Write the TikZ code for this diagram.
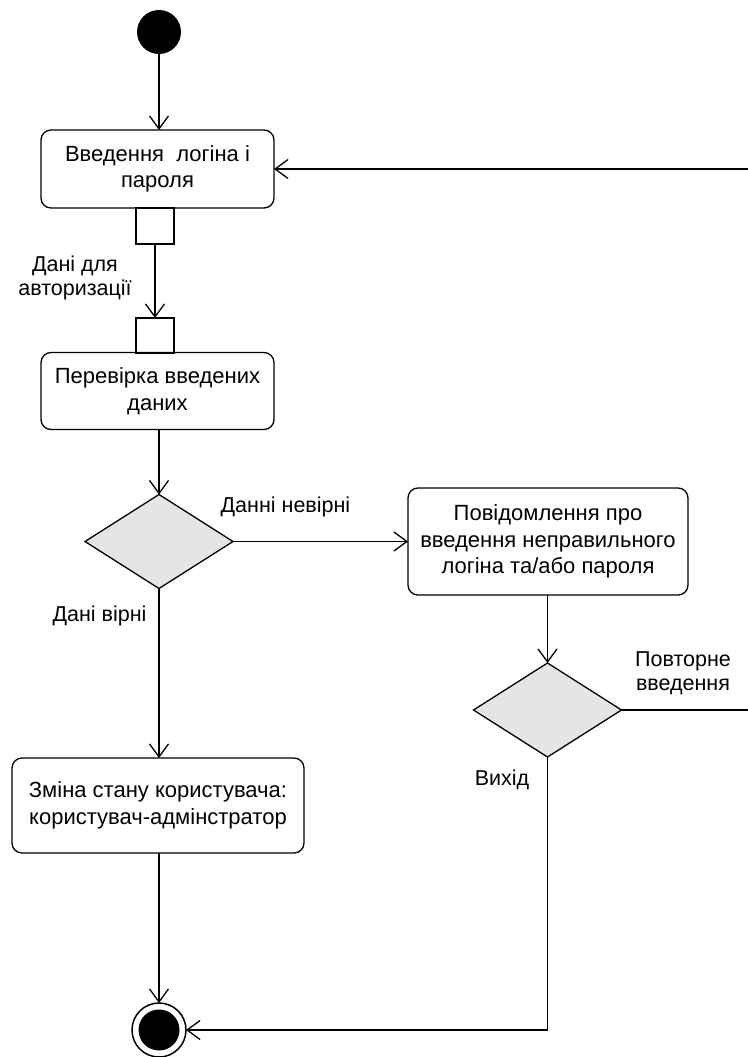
\documentclass[tikz,border=0pt]{standalone}
\usepackage{fontspec}
\setmainfont{Liberation Sans}
\usetikzlibrary{shapes.geometric,arrows.meta}
\begin{document}
\begin{tikzpicture}[x=1pt,y=-1pt,
  every node/.style={inner sep=0pt,outer sep=0pt},
  actbox/.style={draw,line width=1.3pt,rounded corners=10pt,align=center,
    font=\fontsize{22}{26.5}\selectfont},
  pinbox/.style={draw,line width=1.5pt,minimum width=38pt,minimum height=36pt},
  decide/.style={draw,diamond,line width=1.3pt,fill=black!10,
    minimum width=148pt,minimum height=94pt},
  lbl/.style={align=center,font=\fontsize{21.5}{24}\selectfont},
  flow/.style={line width=1.3pt,-{Straight Barb[length=13pt,width=19pt,line width=1.3pt]}}]
\useasboundingbox (0,0) rectangle (747,1057);

% start and end
\node[circle,fill=black,minimum size=44pt] (start) at (159,32) {};
\node[circle,draw,line width=1.5pt,minimum size=54pt] (fin) at (159,1030) {};
\fill[black] (fin.center) circle (20.5pt);

% actions
\node[actbox,minimum width=233pt,minimum height=78pt] (b1) at (157.5,169)
  {Введення\ \ логіна і\\пароля};
\node[pinbox] (p1) at (155,226) {};
\node[pinbox,minimum height=35pt] (p2) at (155,335.5) {};
\node[actbox,minimum width=233pt,minimum height=77pt] (b2) at (157.5,391)
  {Перевірка введених\\даних};
\node[decide] (d1) at (159,541.5) {};
\node[actbox,minimum width=280pt,minimum height=107pt] (b3) at (548,541.5)
  {Повідомлення про\\введення неправильного\\логіна та/або пароля};
\node[decide] (d2) at (547.5,710) {};
\node[actbox,minimum width=292pt,minimum height=95pt] (b4) at (158,805.5)
  {Зміна стану користувача:\\користувач-адмінстратор};

% labels
\node[lbl] (lauth) at (75,278) {Дані для\\авторизації};
\node[lbl] (lbad) at (285.5,507) {Данні невірні};
\node[lbl] (lok) at (99.5,616) {Дані вірні};
\node[lbl] (lagain) at (683,673) {Повторне\\введення};
\node[lbl] (lexit) at (502,780) {Вихід};

% return path runs along the page edge
\coordinate (rb) at (749,710);
\coordinate (rt) at (749,169);

% flows
\draw[flow] (start) -- (start |- b1.north);
\draw[flow] (p1) -- (p2);
\draw[flow] (b2.south -| d1.north) -- (d1.north);
\draw[flow] (d1.east) -- (b3.west);
\draw[flow] (b3.south -| d2.north) -- (d2.north);
\draw[flow] (d1.south) -- (d1.south |- b4.north);
\draw[flow] (d1.south |- b4.south) -- (fin.north);
\draw[flow] (d2.east) -- (rb) -- (rt) -- (b1.east);
\draw[flow] (d2.south) |- (fin.east);
\end{tikzpicture}
\end{document}
